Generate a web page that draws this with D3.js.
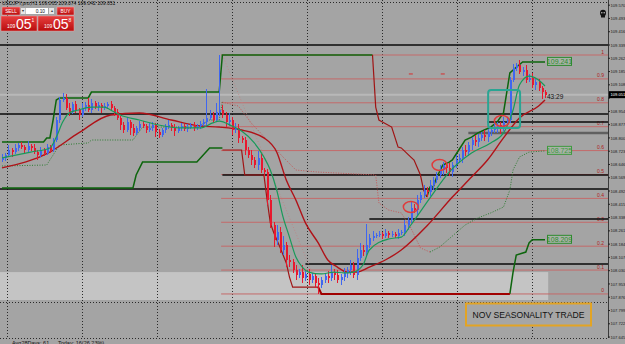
<!DOCTYPE html>
<html>
<head>
<meta charset="utf-8">
<title>USDJPY H1</title>
<style>
body { margin: 0; background: #a4a4a4; }
svg { display: block; font-family: "Liberation Sans", Arial, sans-serif; }
</style>
</head>
<body>
<div id="chart"></div>
<script src="https://cdn.jsdelivr.net/npm/d3@7"></script>
<script>

// ---------- data ----------
const firstOpen = 108.672;
const closes = [
  108.684,108.701,108.730,108.718,108.742,108.759,108.747,108.730,108.753,108.742,108.718,108.701,108.730,108.713,108.747,108.730,
  108.788,108.904,109.020,109.032,
  108.974,108.950,108.997,108.962,108.933,108.974,108.991,108.962,109.003,108.979,108.991,108.974,108.985,108.997,108.974,
  108.950,108.916,108.875,108.846,108.892,108.858,108.829,108.858,108.881,
  108.869,108.846,108.858,108.875,108.834,108.817,108.846,108.863,108.875,108.858,108.840,108.858,108.869,108.852,108.863,108.875,108.858,108.869,108.881,
  108.892,108.916,108.933,108.904,108.950,108.962,
  108.933,108.892,108.904,108.846,108.858,108.800,108.788,108.730,
  108.701,108.672,108.643,108.684,108.614,108.602,
  108.440,108.295,108.208,108.254,108.150,108.179,108.092,108.080,
  108.034,108.005,108.022,107.988,108.011,107.976,107.999,107.959,107.947,107.976,
  107.999,107.988,108.022,108.005,107.976,107.993,108.017,108.034,
  108.063,108.005,108.104,108.150,108.138,108.179,108.220,108.231,
  108.237,108.243,108.231,108.249,108.237,108.243,108.231,108.249,108.254,
  108.295,108.324,108.394,108.382,108.440,108.469,108.498,108.486,108.527,108.556,108.585,108.614,108.643,
  108.626,108.602,108.643,108.672,108.684,108.730,108.718,108.759,108.788,108.776,
  108.800,108.817,108.805,108.834,108.846,108.858,108.875,108.863,108.892,108.904,
  109.136,109.206,109.223,109.182,109.194,109.136,109.148,109.107,109.124,109.090,109.066,109.051
];
// wick lengths beyond the body, in pips (0.01)
const wickUp = [
  2,1,3,1,2,1,2,1,3,1,2,1,2,1,2,1,
  1,2,2,3,
  2,3,1,2,1,3,2,4,2,1,2,1,2,1,2,
  1,2,1,2,3,1,2,1,2,
  2,1,3,2,1,2,1,2,3,1,2,1,2,1,2,1,2,1,2,
  2,17,3,2,5,32,
  3,2,4,2,3,2,1,2,
  2,3,2,4,2,1,
  2,3,2,4,3,5,2,3,
  2,3,2,4,2,3,2,1,3,2,
  2,3,4,2,3,2,3,2,
  3,2,5,4,3,12,2,3,
  1,2,1,2,1,2,1,2,1,
  3,2,4,2,3,2,3,2,3,2,2,3,2,
  2,3,2,3,2,2,3,2,2,3,
  2,2,3,2,2,3,2,2,3,2,
  2,2,1,3,2,3,2,3,2,2,1,1
];
const wickDn = [
  1,2,1,3,1,2,1,2,1,2,1,3,1,2,1,2,
  1,1,2,1,
  1,2,1,2,3,1,2,1,2,1,2,3,1,2,1,
  2,1,3,2,1,4,2,1,2,
  1,2,1,2,3,2,1,2,1,2,3,1,2,1,2,1,2,1,2,
  1,2,1,2,1,2,
  2,3,2,3,2,3,2,3,
  2,3,2,3,2,3,
  3,2,4,3,2,3,4,3,
  2,3,2,3,2,3,2,3,5,2,
  2,3,2,3,2,3,2,3,
  3,2,3,2,2,2,2,2,
  1,1,2,1,2,1,1,2,1,
  2,3,2,2,3,2,2,3,2,3,2,2,3,
  3,2,3,2,2,3,2,2,3,2,
  3,2,2,3,2,2,3,4,2,2,
  2,1,2,1,2,2,1,2,3,2,4,2
];

// moving averages, [bar index, price]
const fastMA = [[0,108.684],[9,108.718],[15,108.742],[17,108.805],[19,108.892],[21,108.945],[24,108.962],[28,108.979],[32,108.979],[34,108.962],[37,108.933],[43,108.904],[49,108.875],[56,108.858],[62,108.858],[66,108.887],[68,108.898],[72,108.869],[75,108.840],[79,108.771],[82,108.689],[84,108.614],[86,108.498],[88,108.341],[90,108.225],[92,108.109],[94,108.051],[96,108.022],[100,108.011],[104,108.022],[107,108.017],[110,108.022],[113,108.063],[115,108.150],[121,108.214],[125,108.225],[128,108.295],[134,108.452],[140,108.602],[147,108.713],[153,108.771],[157,108.829],[160,108.962],[162,109.107],[165,109.159],[168,109.136],[170,109.101]];
const slowMA = [[0,108.626],[15,108.718],[24,108.829],[34,108.933],[43,108.945],[53,108.904],[62,108.869],[68,108.863],[75,108.846],[82,108.800],[86,108.718],[89,108.556],[92,108.440],[95,108.307],[99,108.191],[102,108.092],[105,108.051],[108,108.022],[111,108.022],[115,108.051],[120,108.092],[125,108.150],[133,108.289],[141,108.457],[147,108.573],[152,108.672],[157,108.800],[162,108.916],[168,108.985],[170,109.020]];

// price channel: up-trend (green) and down-trend (red) pieces
const upperUp1 = [[0,108.776],[13,108.776],[14,108.800],[15,108.800],[16,108.904],[17,109.020],[18,109.032],[27,109.032],[28,109.066],[68,109.066],[69,109.281],[116,109.281]];
const upperDown = [[116,109.281],[117,108.979],[118,108.904],[122,108.863],[124,108.747],[125,108.742],[128,108.689],[129,108.672],[131,108.585],[132,108.498],[133,108.457]];
const upperUp2 = [[133,108.457],[134,108.515],[135,108.515],[136,108.568],[138,108.643],[140,108.660],[141,108.672],[143,108.730],[145,108.788],[147,108.805],[149,108.829],[151,108.846],[153,108.863],[155,108.892],[157,108.945],[158,109.061],[159,109.177],[161,109.210],[163,109.241],[170,109.241]];
const lowerUp1 = [[0,108.510],[41,108.510],[42,108.585],[44,108.660],[61,108.660],[63,108.701],[65,108.742],[69,108.742]];
const lowerDown = [[69,108.730],[75,108.730],[76,108.585],[82,108.585],[83,108.440],[84,108.307],[85,108.254],[87,108.167],[89,108.075],[90,107.993],[91,107.935],[99,107.935],[100,107.895],[159,107.895]];
const lowerUp2 = [[159,107.895],[160,108.022],[161,108.121],[164,108.138],[165,108.191],[166,108.209],[170,108.209]];
const midUp1 = [[0,108.637],[14,108.643],[16,108.701],[18,108.759],[27,108.771],[28,108.788],[41,108.788],[44,108.863],[61,108.863],[65,108.904],[68,108.904],[69,109.008]];
const midDown = [[69,109.008],[74,108.985],[78,108.887],[83,108.788],[88,108.689],[92,108.614],[99,108.602],[117,108.585],[118,108.423],[121,108.382],[125,108.365],[128,108.278],[131,108.162],[134,108.138]];
const midUp2 = [[134,108.138],[137,108.167],[141,108.231],[145,108.295],[149,108.336],[153,108.365],[157,108.399],[159,108.498],[160,108.614],[162,108.689],[165,108.718],[170,108.725]];

// horizontal levels [price, first bar]
const blackLevels = [109.339, 108.939, 108.892, 108.585, 108.504, 108.330, 108.069];
const blackLevelFrom = [0, 0, 152, 69, 0, 115, 95];
const grayLevel = 108.829, grayLevelFrom = 146;
const bidPrice = 109.051, askPrice = 109.058;

// fibonacci object
const fibHigh = 109.281, fibLow = 107.895, fibFrom = 68.6;
const fibRatios = [1, 0.9, 0.8, 0.7, 0.6, 0.5, 0.4, 0.3, 0.2, 0.1, 0];

// highlighted zone and trendline
const zoneTop = 108.022, zoneBottom = 107.860, zoneEnd = 171;
const trendLine = [[69,109.281],[97,108.022]];

// annotations
const circleMarks = [[128,108.399],[137,108.643],[156.5,108.898]];
const boxMark = [[152.2,109.078],[162.2,108.858]];
const dashMarks = [[128,109.171],[138,109.171]];

// axes / grid
const priceTicks = [109.570,109.493,109.416,109.339,109.262,109.185,109.108,109.031,108.954,108.877,108.800,108.723,108.646,108.569,108.492,108.415,108.338,108.261,108.184,108.107,108.030,107.953,107.876,107.799,107.722,107.645];
const dayStarts = [1.5, 25, 48.5, 72, 95.5, 119, 142.5, 166];
const gridPrices = [109.588, 107.848];

// ---------- drawing ----------
const W = 625, H = 344, plotRight = 608, plotBottom = 338;
const svg = d3.select('#chart').append('svg')
  .attr('width', W)
  .attr('height', H);

const x = d3.scaleLinear().domain([0, 170]).range([2, 545]);
const y = d3.scaleLinear().domain([109.6, 109.6 - 0.0058 * plotBottom]).range([0, plotBottom]);

svg.append('rect').attr('width', W).attr('height', H).attr('fill', '#a4a4a4');

// zone
svg.append('rect')
  .attr('x', 0).attr('y', y(zoneTop))
  .attr('width', x(zoneEnd) - 0).attr('height', y(zoneBottom) - y(zoneTop))
  .attr('fill', '#c4c4c4');

// grid
const grid = svg.append('g').attr('stroke', '#2a2a2a').attr('stroke-dasharray', '1,2').attr('stroke-width', 1);
dayStarts.forEach(d => {
  const gx = Math.round(x(d)) + 0.5;
  grid.append('line').attr('x1', gx).attr('x2', gx).attr('y1', 0).attr('y2', plotBottom);
});
gridPrices.forEach(p => {
  const gy = Math.round(y(p)) + 0.5;
  grid.append('line').attr('x1', 0).attr('x2', plotRight).attr('y1', gy).attr('y2', gy);
});
grid.append('line').attr('x1', 0).attr('x2', plotRight).attr('y1', plotBottom + 0.5).attr('y2', plotBottom + 0.5);

// fib levels
const fib = svg.append('g');
fibRatios.forEach(r => {
  const p = fibLow + (fibHigh - fibLow) * r;
  fib.append('line')
    .attr('x1', x(fibFrom)).attr('x2', plotRight)
    .attr('y1', y(p)).attr('y2', y(p))
    .attr('stroke', '#c46a6a').attr('stroke-width', 1);
  fib.append('text')
    .attr('x', 604).attr('y', y(p) - 1.5)
    .attr('text-anchor', 'end')
    .attr('font-size', 5).attr('fill', '#b02020')
    .text(r);
});

// horizontal levels
blackLevels.forEach((p, k) => {
  svg.append('line')
    .attr('x1', x(blackLevelFrom[k]) - (blackLevelFrom[k] === 0 ? 2 : 0)).attr('x2', plotRight)
    .attr('y1', y(p)).attr('y2', y(p))
    .attr('stroke', '#0a0a0a').attr('stroke-width', 1.6);
});
svg.append('line')
  .attr('x1', x(grayLevelFrom)).attr('x2', plotRight)
  .attr('y1', y(grayLevel)).attr('y2', y(grayLevel))
  .attr('stroke', '#606060').attr('stroke-width', 2.5);

// bid line
svg.append('line')
  .attr('x1', 0).attr('x2', plotRight)
  .attr('y1', y(bidPrice)).attr('y2', y(bidPrice))
  .attr('stroke', '#b8b8b8').attr('stroke-width', 2);

// trendline
svg.append('line')
  .attr('x1', x(trendLine[0][0])).attr('y1', y(trendLine[0][1]))
  .attr('x2', x(trendLine[1][0])).attr('y2', y(trendLine[1][1]))
  .attr('stroke', '#c08080').attr('stroke-width', 0.8).attr('stroke-dasharray', '1,2');

const line = d3.line().x(d => x(d[0])).y(d => y(d[1]));
const smooth = d3.line().x(d => x(d[0])).y(d => y(d[1])).curve(d3.curveMonotoneX);

// channel mid (dotted)
[[midUp1, '#2e7d32'], [midDown, '#c45858'], [midUp2, '#2e7d32']].forEach(([pts, col]) => {
  svg.append('path').attr('d', line(pts)).attr('fill', 'none')
    .attr('stroke', col).attr('stroke-width', 1).attr('stroke-dasharray', '1,1.5');
});

// slow MA
svg.append('path').attr('d', smooth(slowMA)).attr('fill', 'none')
  .attr('stroke', '#b01218').attr('stroke-width', 1.4);

// channel upper/lower
[[upperUp1, '#0d650d', 1.5], [upperDown, '#a01414', 1.2], [upperUp2, '#0d650d', 1.5],
 [lowerUp1, '#0d650d', 1.5], [lowerUp2, '#0d650d', 1.5]].forEach(([pts, col, w]) => {
  svg.append('path').attr('d', line(pts)).attr('fill', 'none')
    .attr('stroke', col).attr('stroke-width', w);
});
svg.append('path').attr('d', line(lowerDown.slice(0, 12))).attr('fill', 'none')
  .attr('stroke', '#a01414').attr('stroke-width', 1.2);
svg.append('path').attr('d', line(lowerDown.slice(11))).attr('fill', 'none')
  .attr('stroke', '#a00000').attr('stroke-width', 2);

// candles
const candles = closes.map((c, i) => {
  const o = i === 0 ? firstOpen : closes[i - 1];
  return { i, o, c, h: Math.max(o, c) + wickUp[i] * 0.01, l: Math.min(o, c) - wickDn[i] * 0.01 };
});
const cg = svg.append('g').attr('shape-rendering', 'crispEdges');
cg.selectAll('rect.wick').data(candles).enter().append('rect')
  .attr('class', 'wick')
  .attr('x', d => Math.round(x(d.i)))
  .attr('width', 1)
  .attr('y', d => y(d.h))
  .attr('height', d => y(d.l) - y(d.h))
  .attr('fill', d => d.c >= d.o ? '#3f66f0' : '#e8182e');
cg.selectAll('rect.body').data(candles).enter().append('rect')
  .attr('class', 'body')
  .attr('x', d => Math.round(x(d.i)) - 0.5)
  .attr('width', 2)
  .attr('y', d => y(Math.max(d.o, d.c)))
  .attr('height', d => Math.max(1, Math.abs(y(d.o) - y(d.c))))
  .attr('fill', d => d.c >= d.o ? '#3f66f0' : '#e8182e');

// fast MA
svg.append('path').attr('d', smooth(fastMA)).attr('fill', 'none')
  .attr('stroke', '#189a5a').attr('stroke-width', 1.2);

// channel value labels
const fmt = d3.format('.3f');
[[upperUp2, '#2e8b2e'], [midUp2, '#3f9a3f'], [lowerUp2, '#2e8b2e']].forEach(([pts, col]) => {
  const last = pts[pts.length - 1];
  const ly = y(last[1]);
  svg.append('rect').attr('x', 547.5).attr('y', ly - 4.5).attr('width', 24).attr('height', 8)
    .attr('fill', '#a8b2a8').attr('stroke', col).attr('stroke-width', 1);
  svg.append('text').attr('x', 559.5).attr('y', ly + 2.3).attr('text-anchor', 'middle')
    .attr('font-size', 7).attr('fill', col).text(fmt(last[1]));
});

// bar timer
svg.append('text').attr('x', 547).attr('y', y(bidPrice) + 4).attr('font-size', 6.5)
  .attr('fill', '#111').text('43:29');

// annotations
circleMarks.forEach(d => {
  svg.append('ellipse').attr('cx', x(d[0])).attr('cy', y(d[1])).attr('rx', 7.5).attr('ry', 5.5)
    .attr('fill', 'none').attr('stroke', '#e03a3a').attr('stroke-width', 1.5);
});
svg.append('rect')
  .attr('x', x(boxMark[0][0])).attr('y', y(boxMark[0][1]))
  .attr('width', x(boxMark[1][0]) - x(boxMark[0][0])).attr('height', y(boxMark[1][1]) - y(boxMark[0][1]))
  .attr('rx', 3).attr('fill', 'none').attr('stroke', '#2aa593').attr('stroke-width', 2);
dashMarks.forEach(d => {
  svg.append('line').attr('x1', x(d[0]) - 2).attr('x2', x(d[0]) + 2).attr('y1', y(d[1])).attr('y2', y(d[1]))
    .attr('stroke', '#d83030').attr('stroke-width', 1);
});

// text box
svg.append('rect').attr('x', 466).attr('y', 303.5).attr('width', 125).attr('height', 22)
  .attr('fill', '#a6a6a6').attr('stroke', '#e3a424').attr('stroke-width', 2);
svg.append('text').attr('x', 528.5).attr('y', 318).attr('text-anchor', 'middle')
  .attr('font-size', 8.6).attr('fill', '#111').text('NOV SEASONALITY TRADE');

// right price axis
svg.append('line').attr('x1', plotRight + 0.5).attr('x2', plotRight + 0.5).attr('y1', 0).attr('y2', plotBottom)
  .attr('stroke', '#3a3a3a').attr('stroke-width', 1);
const axis = svg.append('g');
priceTicks.forEach(p => {
  axis.append('line').attr('x1', plotRight).attr('x2', plotRight + 2).attr('y1', y(p)).attr('y2', y(p))
    .attr('stroke', '#222');
  if (Math.abs(y(p) - y(bidPrice)) < 6) return; // hidden behind the bid label
  axis.append('text').attr('x', 610.5).attr('y', y(p) + 1.6).attr('font-size', 4.1).attr('fill', '#1a1a1a')
    .text(fmt(p));
});
axis.append('rect').attr('x', 609).attr('y', y(bidPrice) - 3.5).attr('width', 16).attr('height', 7).attr('fill', '#000');
axis.append('text').attr('x', 610.5).attr('y', y(bidPrice) + 1.6).attr('font-size', 4.1).attr('fill', '#fff').text(fmt(bidPrice));

// skull icon
const sk = svg.append('g').attr('transform', 'translate(603,13)');
sk.append('ellipse').attr('rx', 3).attr('ry', 3.2).attr('fill', '#111');
sk.append('rect').attr('x', -2).attr('y', 1.5).attr('width', 4).attr('height', 3).attr('fill', '#111');
sk.append('circle').attr('cx', -1.2).attr('cy', -0.3).attr('r', 0.8).attr('fill', '#bbb');
sk.append('circle').attr('cx', 1.2).attr('cy', -0.3).attr('r', 0.8).attr('fill', '#bbb');

// one-click trading panel
const defs = svg.append('defs');
const grad = defs.append('linearGradient').attr('id', 'redg').attr('x1', 0).attr('x2', 0).attr('y1', 0).attr('y2', 1);
grad.append('stop').attr('offset', 0).attr('stop-color', '#e84040');
grad.append('stop').attr('offset', 1).attr('stop-color', '#b80c0c');

svg.append('text').attr('x', 2).attr('y', 5).attr('font-size', 5).attr('fill', '#111')
  .text('USDJPY,pro,H1  109.065 109.074 109.042 ' + fmt(bidPrice));
const panel = svg.append('g');
panel.append('rect').attr('x', 2).attr('y', 7).attr('width', 18).attr('height', 8).attr('fill', 'url(#redg)').attr('stroke', '#f2b0b0').attr('stroke-width', 0.5);
panel.append('text').attr('x', 11).attr('y', 12.6).attr('text-anchor', 'middle').attr('font-size', 4.8).attr('fill', '#fff').text('SELL');
panel.append('rect').attr('x', 21).attr('y', 8).attr('width', 4.5).attr('height', 6).attr('fill', '#e6e6e6');
panel.append('text').attr('x', 23.2).attr('y', 12.3).attr('text-anchor', 'middle').attr('font-size', 4).attr('fill', '#333').text('▾');
panel.append('rect').attr('x', 26).attr('y', 8).attr('width', 22).attr('height', 6).attr('fill', '#fff');
panel.append('text').attr('x', 45).attr('y', 12.6).attr('text-anchor', 'end').attr('font-size', 4.8).attr('fill', '#111').text('0.10');
panel.append('rect').attr('x', 49).attr('y', 8).attr('width', 5).attr('height', 6).attr('fill', '#e6e6e6');
panel.append('text').attr('x', 51.5).attr('y', 12.3).attr('text-anchor', 'middle').attr('font-size', 4).attr('fill', '#333').text('▴');
panel.append('rect').attr('x', 57).attr('y', 7).attr('width', 17).attr('height', 8).attr('fill', 'url(#redg)').attr('stroke', '#f2b0b0').attr('stroke-width', 0.5);
panel.append('text').attr('x', 65.5).attr('y', 12.6).attr('text-anchor', 'middle').attr('font-size', 4.8).attr('fill', '#fff').text('BUY');

[[1, 36, bidPrice], [38, 36, askPrice]].forEach(([bx, bw, p]) => {
  const s = fmt(p);
  panel.append('rect').attr('x', bx).attr('y', 16).attr('width', bw).attr('height', 15).attr('fill', 'url(#redg)')
    .attr('stroke', '#f0a0a0').attr('stroke-width', 0.5);
  panel.append('text').attr('x', bx + 6).attr('y', 27.5).attr('font-size', 5).attr('fill', '#fff').text(s.slice(0, 3));
  panel.append('text').attr('x', bx + 15).attr('y', 29).attr('font-size', 14).attr('fill', '#fff').text(s.slice(4, 6));
  panel.append('text').attr('x', bx + 30.5).attr('y', 22).attr('font-size', 5).attr('fill', '#fff').text(s.slice(6));
});

// status line
svg.append('text').attr('x', 12).attr('y', 344.5).attr('font-size', 5.5).attr('fill', '#111')
  .text('Avg28Days:  61');
svg.append('text').attr('x', 58).attr('y', 344.5).attr('font-size', 5.5).attr('fill', '#111')
  .text('Today:  16(26.23%)');

</script>
</body>
</html>
